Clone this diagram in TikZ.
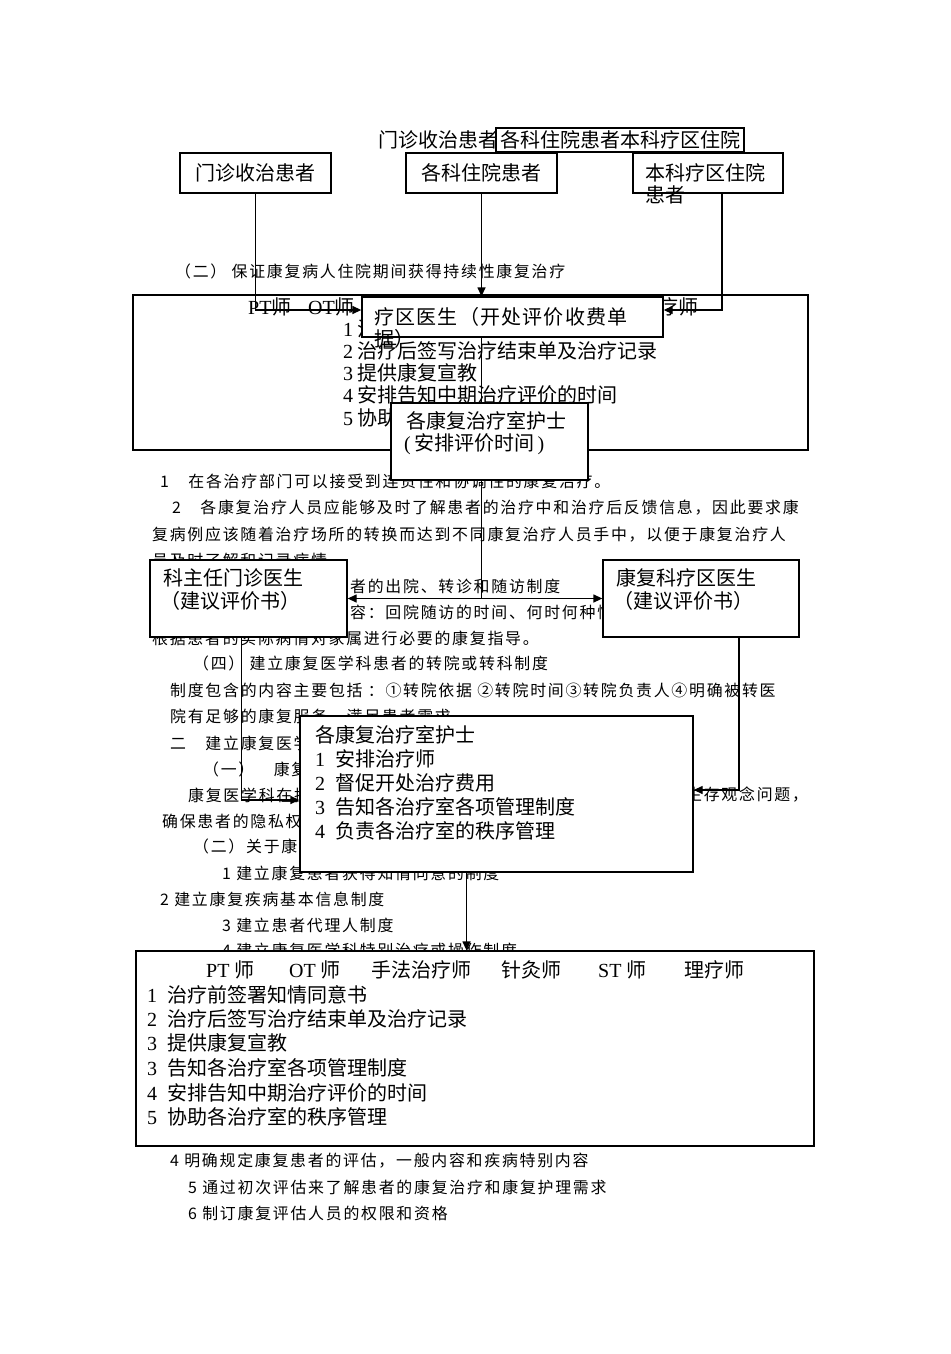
\documentclass[tikz,border=0pt]{standalone}
\usepackage{fontspec}
\setmainfont{Noto Sans CJK SC}
\newfontfamily\lat{Liberation Serif}
\newfontfamily\bgfont{Noto Sans CJK SC}[LetterSpace=11]
\newfontfamily\widefont{Noto Sans CJK SC}[LetterSpace=6]
\usetikzlibrary{arrows.meta}
\pgfdeclarelayer{bgtext}
\pgfdeclarelayer{links}
\pgfsetlayers{bgtext,links,main}

\begin{document}
\begin{tikzpicture}[x=1pt,y=-1pt,
    bx/.style={draw,fill=white,line width=1.3pt,inner sep=0pt,
               font=\fontsize{20}{24}\selectfont},
    txt/.style={anchor=west,inner sep=0pt,font=\fontsize{20}{24}\selectfont},
    bg/.style={anchor=west,inner sep=0pt,font=\bgfont\fontsize{15.9}{18}\selectfont},
    ln/.style={line width=1.3pt},
    arr/.style={-{Triangle[length=9pt,width=8pt]},line width=1.3pt},
    arrs/.style={{Triangle[length=9pt,width=8pt]}-{Triangle[length=9pt,width=8pt]},
                 line width=1.3pt}]
  \useasboundingbox (0,0) rectangle (950,1354);

  % running text of the page
  \begin{pgfonlayer}{bgtext}
    \fill[white] (0,0) rectangle (950,1354);
    \node[txt] (top) at (378,140) {门诊收治患者};
    \node[bg] (b1) at (175,271) {（二） 保证康复病人住院期间获得持续性康复治疗};
    \node[bg] (b2) at (160,481) {1　在各治疗部门可以接受到连贯性和协调性的康复治疗。};
    \node[bg] (b3) at (172,508) {2　各康复治疗人员应能够及时了解患者的治疗中和治疗后反馈信息，因此要求康};
    \node[bg] (b4) at (152,535) {复病例应该随着治疗场所的转换而达到不同康复治疗人员手中，以便于康复治疗人};
    \node[bg] (b5) at (152,560) {员及时了解和记录病情。};
    \node[bg] (b6) at (350,586) {者的出院、转诊和随访制度};
    \node[bg] (b7) at (350,612) {容：回院随访的时间、何时何种情况};
    \node[bg] (b8) at (152,638) {根据患者的实际病情对家属进行必要的康复指导。};
    \node[bg] (b9) at (193,663) {（四） 建立康复医学科患者的转院或转科制度};
    \node[bg] (b10) at (170,690) {制度包含的内容主要包括 ：①转院依据 ②转院时间③转院负责人④明确被转医};
    \node[bg] (b11) at (170,717) {院有足够的康复服务，满足患者需求};
    \node[bg] (b12) at (170,743) {二　建立康复医学科};
    \node[bg] (b13) at (203,769) {（一）　康复医学};
    \node[bg] (b14) at (188,795) {康复医学科在执};
    \node[bg] (b15) at (686,795) {生存观念问题，};
    \node[bg] (b16) at (162,821) {确保患者的隐私权};
    \node[bg] (b17) at (193,846) {（二）关于康复医学};
    \node[bg] (b18) at (222,873) {1 建立康复患者获得知情同意的制度};
    \node[bg] (b19) at (160,899) {2 建立康复疾病基本信息制度};
    \node[bg] (b20) at (222,925) {3 建立患者代理人制度};
    \node[bg] (b21) at (222,950) {4 建立康复医学科特别治疗或操作制度};
    \node[bg] (b22) at (170,1161) {4 明确规定康复患者的评估，一般内容和疾病特别内容};
    \node[bg] (b23) at (188,1187) {5 通过初次评估来了解患者的康复治疗和康复护理需求};
    \node[bg] (b24) at (188,1213) {6 制订康复评估人员的权限和资格};

    % therapists box, upper
    \node[bx,minimum width=675pt,minimum height=155pt] (pt1) at (470.5,372.5) {};
    \node[txt] (pt1a) at (248,307) {{\lat PT}师};
    \node[txt] (pt1b) at (308,307) {{\lat OT}师};
    \node[txt,anchor=east] (pt1c) at (699,307) {理疗师};
    \node[txt] (pl1) at (343,329) {{\lat 1} 治疗前签署知情同意书};
    \node[txt] (pl2) at (343,351) {{\lat 2} 治疗后签写治疗结束单及治疗记录};
    \node[txt] (pl3) at (343,373) {{\lat 3} 提供康复宣教};
    \node[txt] (pl4) at (343,395) {{\lat 4} 安排告知中期治疗评价的时间};
    \node[txt] (pl5) at (343,418) {{\lat 5} 协助各治疗室的秩序管理};
  \end{pgfonlayer}

  % boxes
  \node[bx,minimum width=248pt,minimum height=24pt] (tb) at (620,140) {各科住院患者本科疗区住院};
  \node[bx,minimum width=151pt,minimum height=40pt] (mz) at (255.5,173) {门诊收治患者};
  \node[bx,minimum width=151pt,minimum height=40pt] (gk) at (481.5,173) {各科住院患者};
  \node[bx,minimum width=150pt,minimum height=40pt] (bk) at (708,173) {};
  \node[txt] (bka) at (645,173) {本科疗区住院};
  \node[txt] (bkb) at (645,195) {患者};

  \node[bx,minimum width=301pt,minimum height=40pt] (lq) at (512.5,317) {};
  \node[txt,font=\widefont\fontsize{20}{24}\selectfont] (lqa) at (374,317) {疗区医生（开处评价收费单};
  \node[txt] (lqb) at (374,339) {据）};

  \node[bx,minimum width=197pt,minimum height=77pt] (hs1) at (489.5,441.5) {};
  \node[txt] (hs1a) at (406,421) {各康复治疗室护士};
  \node[txt] (hs1b) at (404,444) {{\lat (\,}安排评价时间{\lat \,)}};

  \node[bx,minimum width=197pt,minimum height=77pt] (kz) at (248.5,598.5) {};
  \node[txt] (kza) at (163,578) {科主任门诊医生};
  \node[txt] (kzb) at (160,601) {（建议评价书）};
  \node[bx,minimum width=196pt,minimum height=77pt] (kf) at (701,598.5) {};
  \node[txt] (kfa) at (616,578) {康复科疗区医生};
  \node[txt] (kfb) at (613,601) {（建议评价书）};

  \node[bx,minimum width=393pt,minimum height=156pt] (hs2) at (496.5,794) {};
  \node[txt] (hs2a) at (315,735) {各康复治疗室护士};
  \node[txt] (hs2b) at (315,759) {{\lat 1}\enspace 安排治疗师};
  \node[txt] (hs2c) at (315,783) {{\lat 2}\enspace 督促开处治疗费用};
  \node[txt] (hs2d) at (315,807) {{\lat 3}\enspace 告知各治疗室各项管理制度};
  \node[txt] (hs2e) at (315,831) {{\lat 4}\enspace 负责各治疗室的秩序管理};

  % therapists box, lower
  \node[bx,minimum width=678pt,minimum height=195pt] (pt2) at (475,1048.5) {};
  \node[txt] (h1) at (206,970) {{\lat PT }师};
  \node[txt] (h2) at (289,970) {{\lat OT }师};
  \node[txt] (h3) at (371,970) {手法治疗师};
  \node[txt] (h4) at (501,970) {针灸师};
  \node[txt] (h5) at (598,970) {{\lat ST }师};
  \node[txt] (h6) at (684,970) {理疗师};
  \node[txt] (q1) at (147,995) {{\lat 1}\enspace 治疗前签署知情同意书};
  \node[txt] (q2) at (147,1019) {{\lat 2}\enspace 治疗后签写治疗结束单及治疗记录};
  \node[txt] (q3) at (147,1043) {{\lat 3}\enspace 提供康复宣教};
  \node[txt] (q4) at (147,1068) {{\lat 3}\enspace 告知各治疗室各项管理制度};
  \node[txt] (q5) at (147,1093) {{\lat 4}\enspace 安排告知中期治疗评价的时间};
  \node[txt] (q6) at (147,1117) {{\lat 5}\enspace 协助各治疗室的秩序管理};

  % connectors
  \begin{pgfonlayer}{links}
    \draw[arr] (mz.south) |- ([yshift=7pt]lq.west);
    \draw[arr] (gk.south) -- (gk.south |- lq.north);
    \draw[arr] ([xshift=14pt]bk.south) |- ([yshift=7pt]lq.east);
    \draw[ln] (gk.south |- lq.south) -- (gk.south |- kz.east);
    \draw[arrs] (kz) -- (kf);
    \draw[arr] ([xshift=-7pt]kz.south) |- ([yshift=-6pt]hs2.west);
    \draw[arr] ([xshift=38pt]kf.south) |- ([yshift=4pt]hs2.east);
    \draw[arr] ([xshift=-30pt]hs2.south) -- ([xshift=-30pt]hs2.south |- pt2.north);
  \end{pgfonlayer}
\end{tikzpicture}
\end{document}
